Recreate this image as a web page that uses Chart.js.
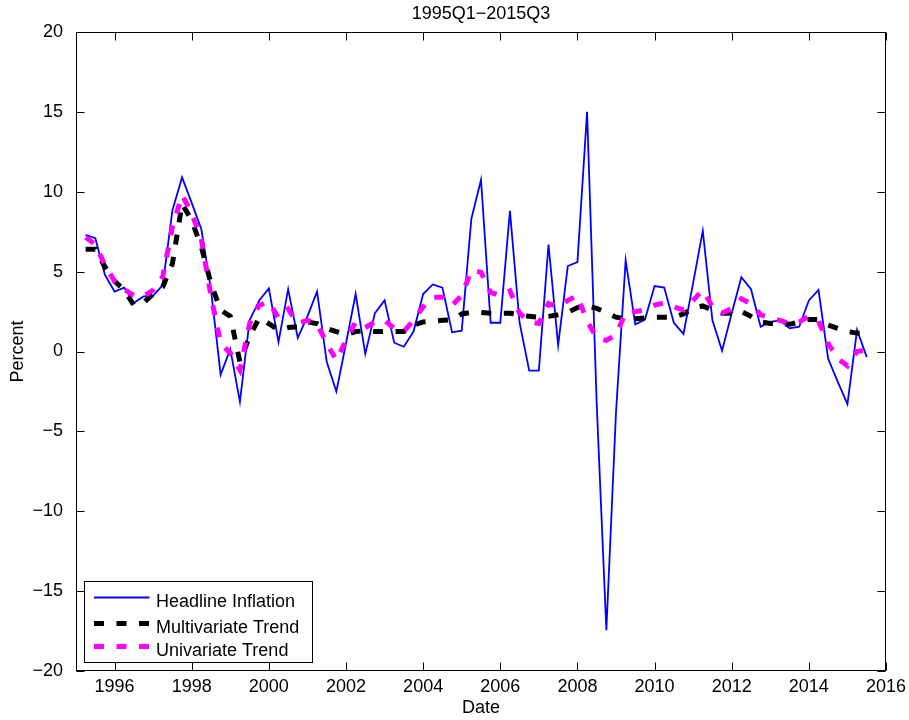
<!DOCTYPE html>
<html>
<head>
<meta charset="utf-8">
<title>Headline inflation and trend estimates</title>
<script src="https://cdn.jsdelivr.net/npm/chart.js@4/dist/chart.umd.min.js"></script>
<style>
  html, body { margin: 0; padding: 0; background: #ffffff; }
  #wrap { width: 909px; height: 720px; }
</style>
</head>
<body>
<div id="wrap"><canvas id="chart" width="909" height="720"></canvas></div>
<script>
// Sample: quarterly observations, 1995Q2 onward (x = year + (quarter - 1) / 4)
const titleText = '1995Q1\u22122015Q3';
const firstQuarter = 1995.25;
const quarterStep = 0.25;

const seriesNames = ['Headline Inflation', 'Multivariate Trend', 'Univariate Trend'];

// Headline inflation, annualised quarterly rate (percent)
const headline = [
  7.3, 7.1, 4.8, 3.75, 4.0, 3.05, 3.45, 3.5, 4.15, 8.85,
  10.9, 9.3, 7.65, 3.85, -1.45, 0.15, -3.15, 1.95, 3.2, 3.95,
  0.6, 3.9, 0.85, 2.2, 3.75, -0.65, -2.5, 0.5, 3.6, -0.15,
  2.4, 3.2, 0.55, 0.3, 1.25, 3.6, 4.2, 4.0, 1.2, 1.3,
  8.3, 10.75, 1.8, 1.8, 8.8, 1.8, -1.2, -1.2, 6.7, 0.4,
  5.35, 5.6, 15.0, -3.3, -17.45, -3.8, 5.7, 1.7, 2.0, 4.1,
  4.0, 1.8, 1.1, 4.3, 7.55, 1.95, 0.05, 2.4, 4.65, 3.9,
  1.55, 1.85, 1.95, 1.45, 1.55, 3.2, 3.85, -0.45, -1.9, -3.3,
  1.35, -0.35
];

// Trend from the multivariate model
const multivariate = [
  6.4, 6.4, 5.3, 4.4, 3.85, 2.9, 3.05, 3.6, 4.05, 5.5,
  9.25, 8.2, 6.55, 4.25, 2.6, 2.2, -0.65, 0.95, 2.1, 1.75,
  1.35, 1.5, 1.55, 1.85, 1.75, 1.45, 1.25, 1.05, 1.25, 1.3,
  1.25, 1.25, 1.25, 1.25, 1.65, 1.85, 1.9, 1.95, 2.0, 2.35,
  2.45, 2.45, 2.4, 2.4, 2.4, 2.3, 2.2, 2.15, 2.2, 2.3,
  2.45, 2.75, 2.85, 2.7, 2.45, 2.15, 2.05, 2.05, 2.1, 2.15,
  2.15, 2.15, 2.35, 2.7, 2.85, 2.6, 2.4, 2.4, 2.5, 2.2,
  1.85, 1.75, 1.75, 1.7, 1.85, 2.0, 2.0, 1.65, 1.45, 1.25,
  1.15, 1.1
];

// Trend from the univariate model
const univariate = [
  7.15, 6.7, 5.4, 4.4, 3.9, 3.5, 3.45, 3.85, 4.7, 7.8,
  9.8, 8.65, 7.0, 3.45, 0.5, -0.1, -1.15, 1.75, 2.9, 3.1,
  2.1, 2.65, 1.75, 1.95, 1.75, 0.5, -0.55, 0.7, 1.85, 1.5,
  1.85, 1.95, 1.45, 1.25, 1.95, 2.8, 3.4, 3.4, 2.9, 3.5,
  5.1, 4.95, 3.7, 3.5, 3.8, 2.4, 1.85, 1.75, 3.0, 2.8,
  3.2, 3.5, 1.9, 0.85, 0.7, 1.05, 2.45, 2.5, 2.6, 2.9,
  3.05, 2.8, 2.6, 3.2, 3.85, 2.8, 2.4, 2.7, 3.3, 3.0,
  2.3, 2.1, 1.95, 1.75, 1.85, 2.2, 1.9, 0.5, -0.45, -0.9,
  0.0, 0.1
];

const xTicks = [1996, 1998, 2000, 2002, 2004, 2006, 2008, 2010, 2012, 2014, 2016];
const yTicks = [-20, -15, -10, -5, 0, 5, 10, 15, 20];
const xRange = [1995, 2016];
const yRange = [-20, 20];

const FONT = "'Liberation Sans', Arial, Helvetica, sans-serif";
const FONT_SIZE = 18;
const DASH = [10, 12.5];

const toPoints = arr => arr.map((v, i) => ({ x: firstQuarter + i * quarterStep, y: v }));

const seriesStyle = [
  { color: '#0000ff', width: 1.8, dash: [], order: 3 },
  { color: '#000000', width: 5, dash: DASH, order: 2 },
  { color: '#ff00ff', width: 5, dash: DASH, order: 1 }
];
const seriesData = [headline, multivariate, univariate];

const datasets = seriesData.map((arr, k) => ({
  label: seriesNames[k],
  data: toPoints(arr),
  borderColor: seriesStyle[k].color,
  borderWidth: seriesStyle[k].width,
  borderDash: seriesStyle[k].dash,
  borderCapStyle: 'butt',
  borderJoinStyle: 'miter',
  pointRadius: 0,
  tension: 0,
  fill: false,
  order: seriesStyle[k].order
}));

const TICK_LEN = 8;

function line(ctx, x1, y1, x2, y2) {
  ctx.beginPath();
  ctx.moveTo(x1, y1);
  ctx.lineTo(x2, y2);
  ctx.stroke();
}

// Boxed axes with inward tick marks, titles and the in-plot legend
const framePlugin = {
  id: 'frame',
  afterDraw(chart) {
    const { ctx, chartArea: a, scales } = chart;
    const xs = scales.x, ys = scales.y;
    ctx.save();
    ctx.strokeStyle = '#000';
    ctx.lineWidth = 1;
    ctx.setLineDash([]);

    const L = Math.round(a.left) + 0.5, R = Math.round(a.right) - 0.5;
    const T = Math.round(a.top) + 0.5, B = Math.round(a.bottom) - 0.5;
    ctx.strokeRect(L, T, R - L, B - T);

    xs.ticks.forEach(t => {
      const px = Math.round(xs.getPixelForValue(t.value)) + 0.5;
      line(ctx, px, B, px, B - TICK_LEN);
      line(ctx, px, T, px, T + TICK_LEN);
    });
    ys.ticks.forEach(t => {
      const py = Math.round(ys.getPixelForValue(t.value)) + 0.5;
      line(ctx, L, py, L + TICK_LEN, py);
      line(ctx, R, py, R - TICK_LEN, py);
    });

    ctx.fillStyle = '#000';
    ctx.font = FONT_SIZE + 'px ' + FONT;
    ctx.textAlign = 'center';
    ctx.textBaseline = 'middle';
    ctx.fillText(titleText, (a.left + a.right) / 2, 14);
    ctx.fillText('Date', (a.left + a.right) / 2, 708);

    ctx.save();
    ctx.translate(18, (a.top + a.bottom) / 2);
    ctx.rotate(-Math.PI / 2);
    ctx.fillText('Percent', 0, 0);
    ctx.restore();

    // legend box
    const lx = 84.5, ly = 581.5, lw = 228, lh = 81;
    ctx.fillStyle = '#fff';
    ctx.fillRect(lx, ly, lw, lh);
    ctx.strokeStyle = '#000';
    ctx.lineWidth = 1;
    ctx.strokeRect(lx, ly, lw, lh);

    const rowsLine = [597.5, 623.5, 646.5];
    const rowsText = [606.5, 632.5, 655.5];
    chart.data.datasets.forEach((ds, k) => {
      ctx.save();
      ctx.strokeStyle = ds.borderColor;
      ctx.lineWidth = ds.borderWidth;
      ctx.lineCap = 'butt';
      ctx.setLineDash(ds.borderDash || []);
      line(ctx, 94, rowsLine[k], 149.5, rowsLine[k]);
      ctx.restore();
      ctx.fillStyle = '#000';
      ctx.textAlign = 'left';
      ctx.textBaseline = 'alphabetic';
      ctx.fillText(ds.label, 156, rowsText[k]);
    });
    ctx.restore();
  }
};

const fixTicks = values => scale => { scale.ticks = values.map(v => ({ value: v })); };

new Chart(document.getElementById('chart'), {
  type: 'line',
  data: { datasets },
  options: {
    responsive: false,
    animation: false,
    devicePixelRatio: 1,
    parsing: true,
    layout: { padding: { top: 32, right: 23, left: 0, bottom: 0 } },
    plugins: { legend: { display: false }, tooltip: { enabled: false }, title: { display: false } },
    scales: {
      x: {
        type: 'linear',
        min: xRange[0],
        max: xRange[1],
        afterBuildTicks: fixTicks(xTicks),
        afterFit: s => { s.height = 49; },
        grid: { display: false },
        border: { display: false },
        ticks: {
          color: '#000',
          font: { family: FONT, size: FONT_SIZE },
          padding: -3,
          maxRotation: 0,
          autoSkip: false,
          callback: v => String(v)
        }
      },
      y: {
        type: 'linear',
        min: yRange[0],
        max: yRange[1],
        afterBuildTicks: fixTicks(yTicks),
        afterFit: s => { s.width = 76; },
        grid: { display: false },
        border: { display: false },
        ticks: {
          color: '#000',
          font: { family: FONT, size: FONT_SIZE },
          padding: 5,
          autoSkip: false,
          callback: v => (v < 0 ? '\u2212' + Math.abs(v) : String(v))
        }
      }
    }
  },
  plugins: [framePlugin]
});
</script>
</body>
</html>
